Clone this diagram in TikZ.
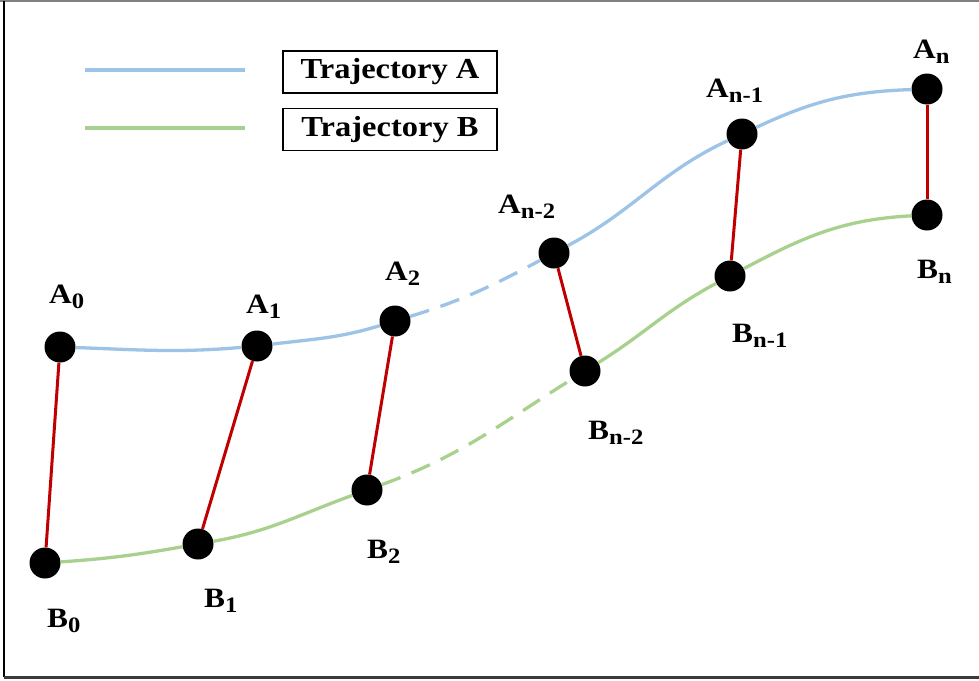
\documentclass[tikz,border=0pt]{standalone}
\usepackage{fontspec}
\setmainfont{Liberation Serif}
\newfontfamily\lblfont[FakeStretch=1.12]{Liberation Serif}
\usetikzlibrary{positioning}
\definecolor{TrajBlue} {HTML}{9DC3E6}
\definecolor{TrajGreen}{HTML}{A9D18E}
\definecolor{LinkRed}  {HTML}{C00000}
\definecolor{FrameGray}{HTML}{3A3A3A}
\newcommand{\sub}[1]{\raisebox{-5pt}{\fontsize{22}{22}\selectfont #1}}

\begin{document}
\begin{tikzpicture}[
  x=1pt, y=1pt,
  dot/.style    = {circle, fill=black, inner sep=0pt, minimum size=31pt},
  lbl/.style    = {anchor=base west, inner sep=0pt,
                   font=\lblfont\fontsize{28}{30}\selectfont\bfseries},
  legbox/.style = {draw, line width=1.3pt, inner sep=0pt,
                   minimum width=214pt, minimum height=42pt,
                   font=\lblfont\fontsize{29}{30}\selectfont\bfseries},
  trajA/.style  = {TrajBlue, line width=3.3pt},
  trajB/.style  = {TrajGreen, line width=3.3pt},
  gap/.style    = {dash pattern=on 20pt off 12pt},
  link/.style   = {LinkRed, line width=3pt},
]
\useasboundingbox (0,0) rectangle (979,-680);
% frame
\draw[gray, line width=1.5pt] (0,-1) -- (979,-1);
\draw[black, line width=2pt] (4,-1) -- (4,-677);
\draw[FrameGray, line width=2.5pt] (4,-677.5) -- (979,-677.5);

% legend
\coordinate (legA1) at (85,-70);
\coordinate (legA2) at (245,-70);
\coordinate (legB1) at (85,-128);
\coordinate (legB2) at (245,-128);
\draw[trajA] (legA1) -- (legA2);
\draw[trajB] (legB1) -- (legB2);
\node[legbox] (boxA) at (390,-72) {Trajectory A};
\node[legbox, below=14pt of boxA] (boxB) {Trajectory B};

% points
\node[dot] (A0)  at (60,-347)  {};
\node[dot] (A1)  at (257,-346) {};
\node[dot] (A2)  at (395,-321) {};
\node[dot] (An2) at (554,-253) {};
\node[dot] (An1) at (742,-134) {};
\node[dot] (An)  at (927,-89)  {};
\node[dot] (B0)  at (45,-563)  {};
\node[dot] (B1)  at (198,-544) {};
\node[dot] (B2)  at (367,-490) {};
\node[dot] (Bn2) at (585,-371) {};
\node[dot] (Bn1) at (730,-276) {};
\node[dot] (Bn)  at (927,-215) {};

% labels
\node[lbl] (lA0)  at (49,-303)  {A\sub{0}};
\node[lbl] (lA1)  at (246,-313) {A\sub{1}};
\node[lbl] (lA2)  at (385,-280) {A\sub{2}};
\node[lbl] (lAn2) at (498,-213) {A\sub{n-2}};
\node[lbl] (lAn1) at (706,-97)  {A\sub{n-1}};
\node[lbl] (lAn)  at (913,-58)  {A\sub{n}};
\node[lbl] (lB0)  at (47,-627)  {B\sub{0}};
\node[lbl] (lB1)  at (204,-607) {B\sub{1}};
\node[lbl] (lB2)  at (367,-558) {B\sub{2}};
\node[lbl] (lBn2) at (588,-439) {B\sub{n-2}};
\node[lbl] (lBn1) at (732,-342) {B\sub{n-1}};
\node[lbl] (lBn)  at (917,-278) {B\sub{n}};

% trajectories
\draw[trajA] (A0) to[out=-2,in=185] (A1) to[out=7,in=197] (A2);
\draw[trajA, gap] (A2) to[out=17,in=208] (An2);
\draw[trajA] (An2) to[out=28,in=205] (An1) to[out=25,in=182] (An);
\draw[trajB] (B0) to[out=4,in=190] (B1) to[out=10,in=200] (B2);
\draw[trajB, gap] (B2) to[out=20,in=212] (Bn2);
\draw[trajB] (Bn2) to[out=32,in=208] (Bn1) to[out=28,in=183] (Bn);

% links
\foreach \a/\b in {A0/B0,A1/B1,A2/B2,An2/Bn2,An1/Bn1,An/Bn}
  \draw[link] (\a) -- (\b);
\end{tikzpicture}
\end{document}
